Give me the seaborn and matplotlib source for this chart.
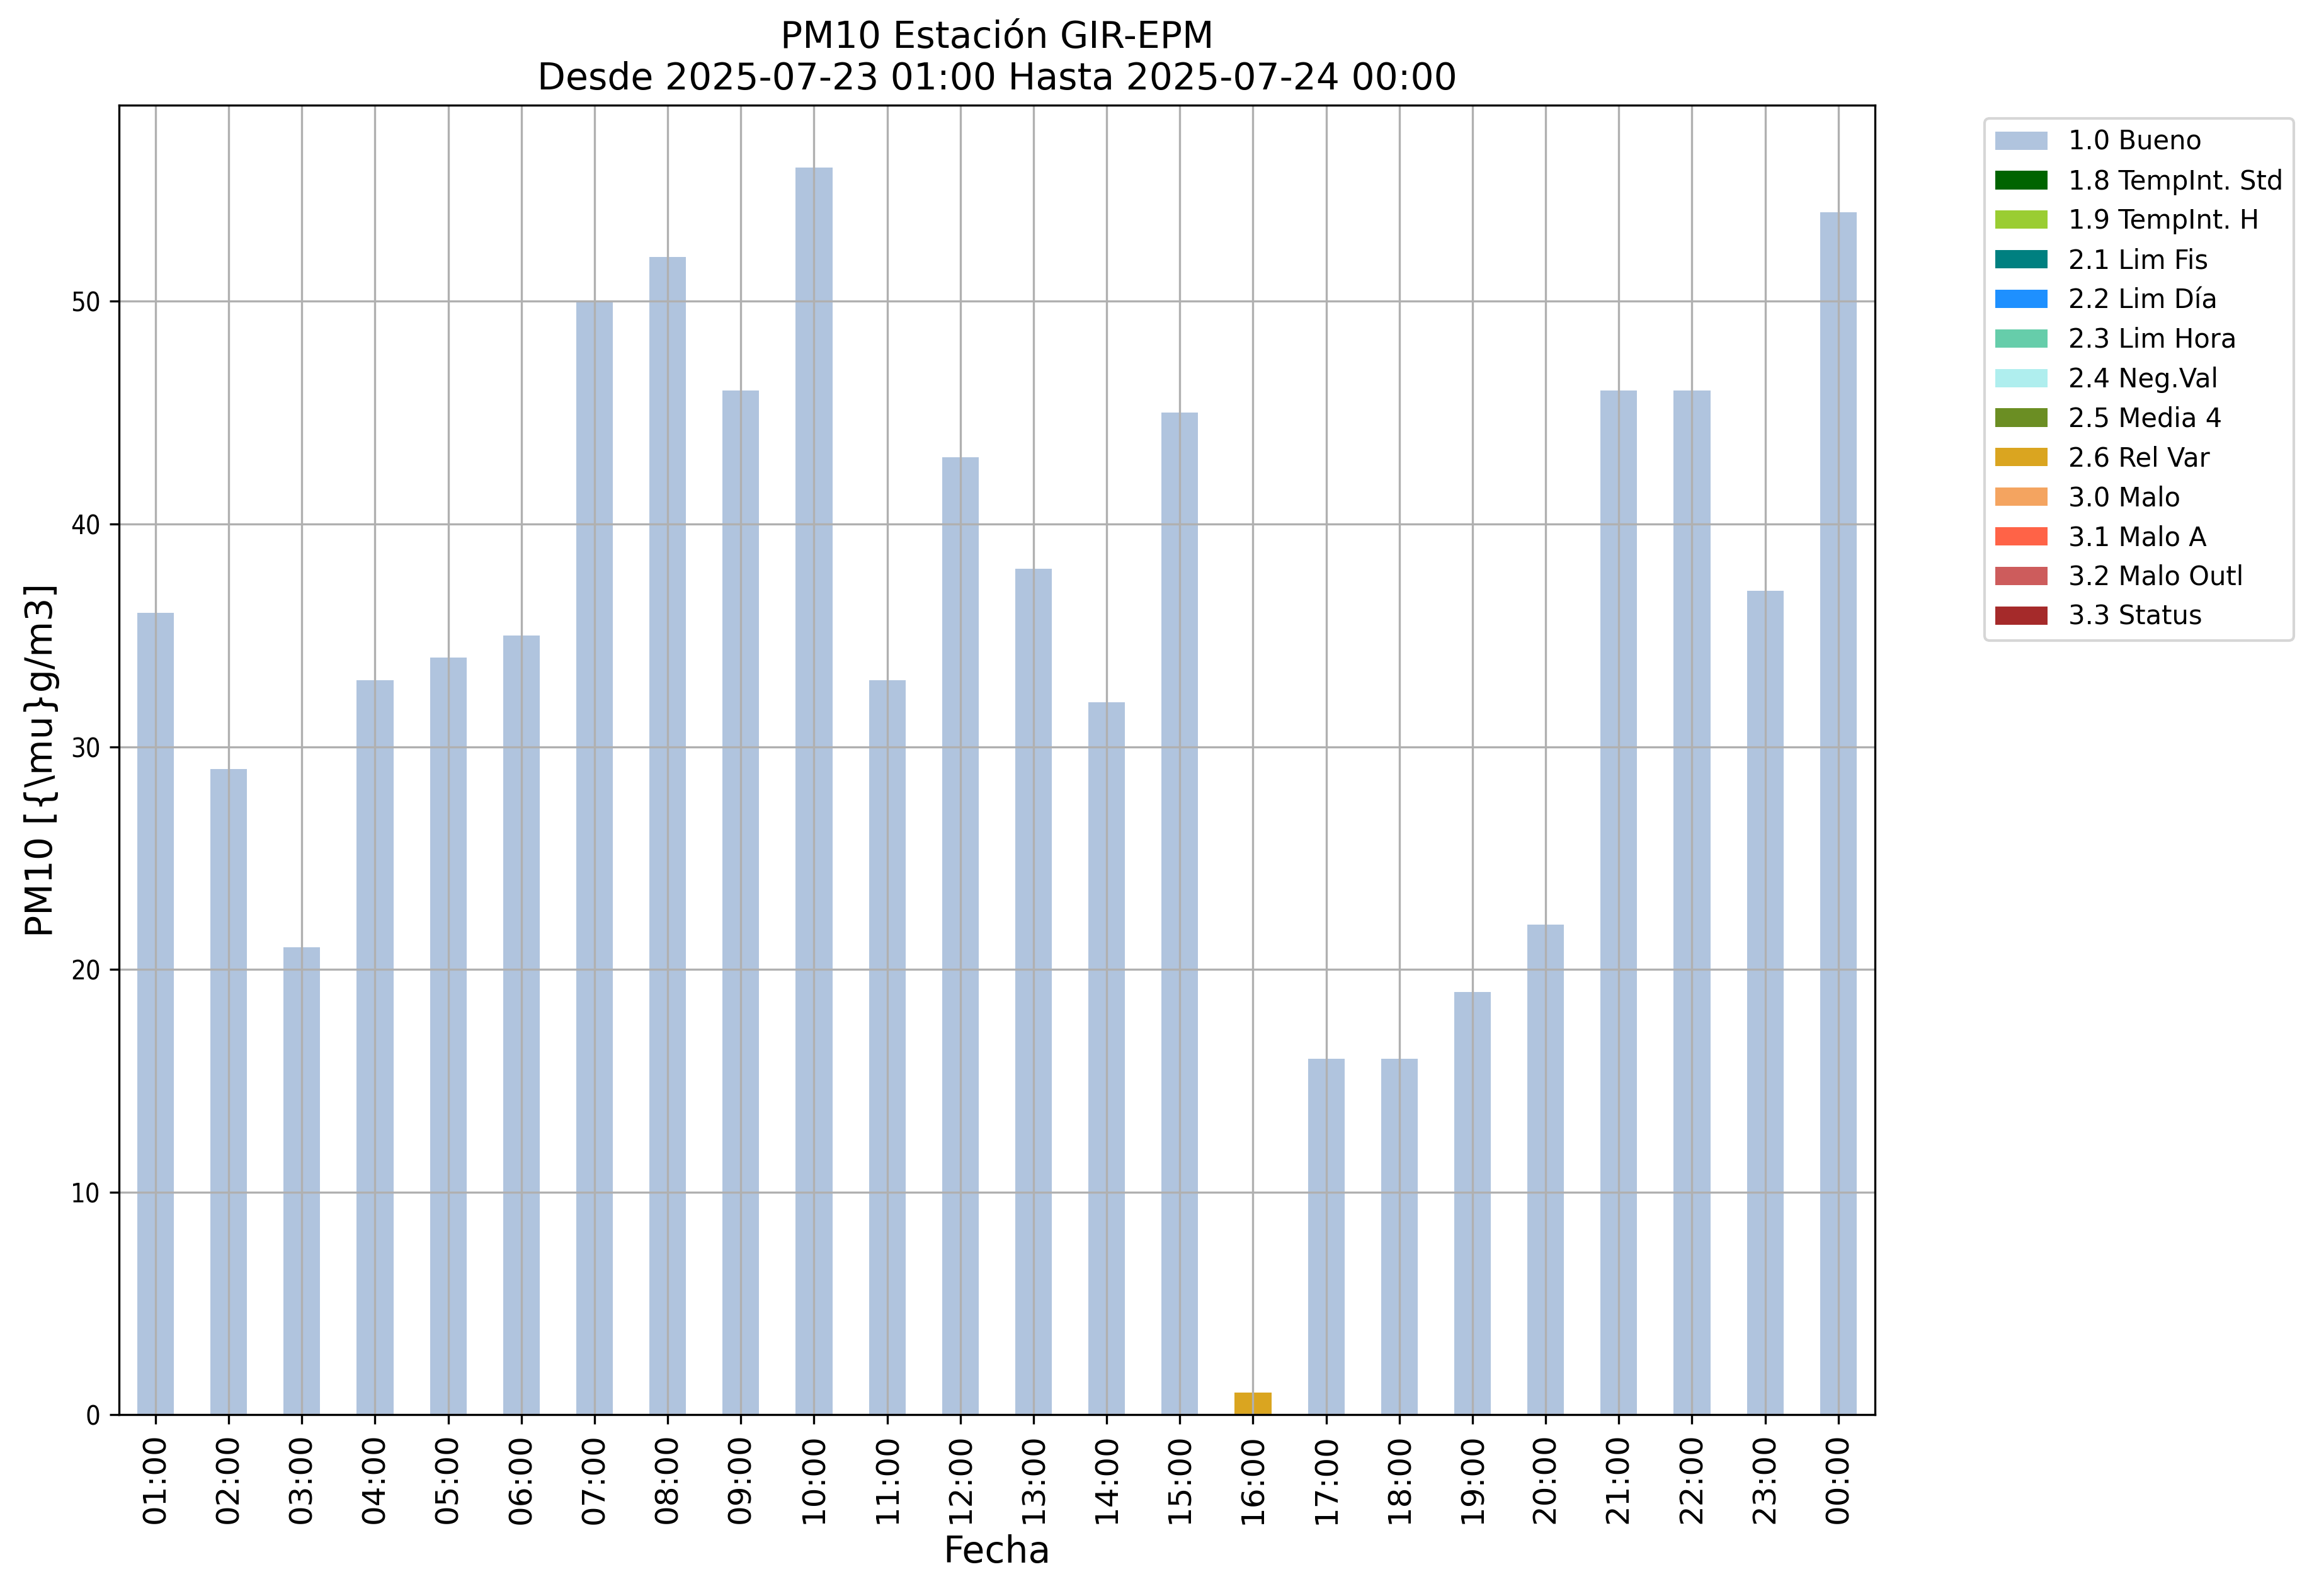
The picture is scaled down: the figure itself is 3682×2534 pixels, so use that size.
import pandas as pd
import numpy as np
import matplotlib
matplotlib.use("Agg")
import matplotlib.pyplot as plt
import seaborn as sns

horas = ["01:00", "02:00", "03:00", "04:00", "05:00", "06:00", "07:00", "08:00",
         "09:00", "10:00", "11:00", "12:00", "13:00", "14:00", "15:00", "16:00",
         "17:00", "18:00", "19:00", "20:00", "21:00", "22:00", "23:00", "00:00"]

bueno = [36, 29, 21, 33, 34, 35, 50, 52, 46, 56, 33, 43, 38, 32, 45, 0,
         16, 16, 19, 22, 46, 46, 37, 54]
rel_var = [0, 0, 0, 0, 0, 0, 0, 0, 0, 0, 0, 0, 0, 0, 0, 1,
           0, 0, 0, 0, 0, 0, 0, 0]
ceros = [0] * 24

banderas = ["1.0 Bueno", "1.8 TempInt. Std", "1.9 TempInt. H", "2.1 Lim Fis",
            "2.2 Lim Día", "2.3 Lim Hora", "2.4 Neg.Val", "2.5 Media 4",
            "2.6 Rel Var", "3.0 Malo", "3.1 Malo A", "3.2 Malo Outl", "3.3 Status"]
colores = ["lightsteelblue", "darkgreen", "yellowgreen", "teal", "dodgerblue",
           "mediumaquamarine", "paleturquoise", "olivedrab", "goldenrod",
           "sandybrown", "tomato", "indianred", "brown"]
valores = [bueno, ceros, ceros, ceros, ceros, ceros, ceros, ceros, rel_var,
           ceros, ceros, ceros, ceros]

fig = plt.figure(figsize=(3682 / 300, 2534 / 300), dpi=300)
ax = fig.add_axes([0.0513, 0.1135, 0.8085 - 0.0513, 0.934 - 0.1135])

# barras apiladas por bandera de calidad
base = np.zeros(len(horas))
for nombre, color, vals in zip(banderas, colores, valores):
    df = pd.DataFrame({"Fecha": horas, "valor": vals})
    sns.barplot(data=df, x="Fecha", y="valor", color=color, width=0.5,
                label=nombre, bottom=base, saturation=1, ax=ax)
    base = base + np.array(vals)

ax.set_xlim(-0.5, len(horas) - 0.5)
ax.set_ylim(0, max(base) * 1.05)
ax.grid(True)
ax.tick_params(axis="x", labelsize=12, labelrotation=90)
for lab in ax.get_yticklabels():
    lab.set_fontsize(10)
    lab.set_fontstretch("condensed")

ax.set_title("PM10 Estación GIR-EPM\nDesde 2025-07-23 01:00 Hasta 2025-07-24 00:00", fontsize=14)
ax.set_xlabel("Fecha", fontsize=14)
ax.set_ylabel("PM10 [{\\mu}g/m3]", fontsize=14)
ax.legend(loc="upper left", bbox_to_anchor=(1.055, 1), fontsize=10)

fig.savefig("out.png", dpi=300)
